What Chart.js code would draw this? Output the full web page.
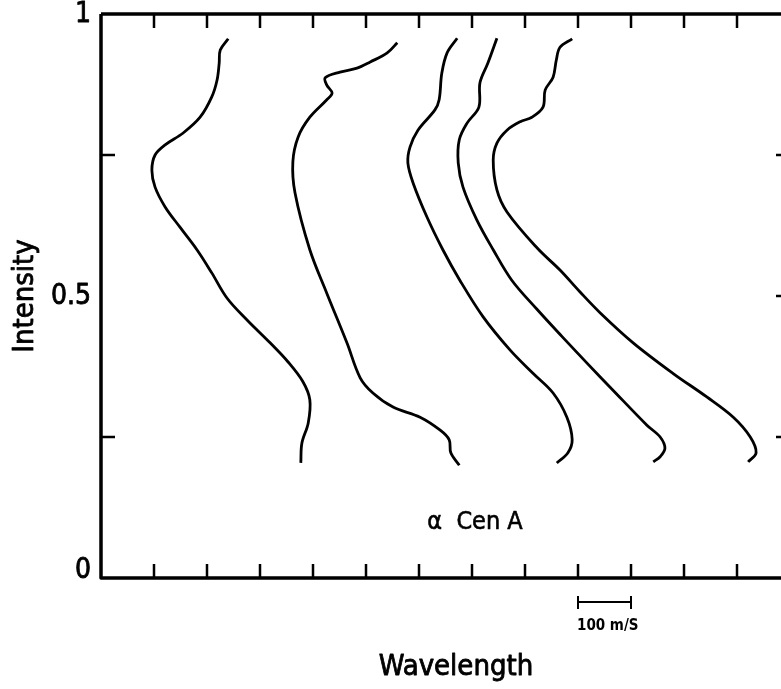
<!DOCTYPE html>
<html>
<head>
<meta charset="utf-8">
<title>alpha Cen A bisectors</title>
<script src="https://cdn.jsdelivr.net/npm/chart.js@4"></script>
<style>
  body { margin: 0; background: #fff; overflow: hidden; }
  canvas { display: block; }
</style>
</head>
<body>
<canvas id="chart" width="781" height="689"></canvas>
<script>
'use strict';

// line bisectors: velocity offset (m/s) and intensity
let shift1 = [240, 225, 223, 219, 209, 187, 155, 121, 102, 96, 102, 121, 149, 181, 209, 238, 276, 319, 353, 381, 394, 391, 379, 377];
let level1 = [0.956, 0.936, 0.913, 0.883, 0.853, 0.817, 0.789, 0.768, 0.750, 0.723, 0.693, 0.658, 0.622, 0.582, 0.541, 0.496, 0.457, 0.417, 0.383, 0.348, 0.316, 0.275, 0.239, 0.204];

let shift2 = [559, 540, 508, 483, 451, 423, 426, 436, 426, 394, 372, 362, 366, 394, 426, 464, 489, 513, 551, 602, 640, 657, 660, 676];
let level2 = [0.949, 0.931, 0.915, 0.904, 0.897, 0.887, 0.874, 0.860, 0.848, 0.817, 0.782, 0.738, 0.683, 0.582, 0.505, 0.417, 0.355, 0.328, 0.303, 0.285, 0.262, 0.245, 0.222, 0.200];

let shift3 = [672, 653, 643, 638, 630, 598, 583, 579, 589, 615, 645, 677, 721, 772, 815, 853, 879, 889, 881, 860];
let level3 = [0.957, 0.931, 0.895, 0.848, 0.830, 0.794, 0.764, 0.736, 0.700, 0.640, 0.582, 0.528, 0.463, 0.404, 0.363, 0.328, 0.285, 0.245, 0.222, 0.204];

let shift4 = [747, 730, 715, 713, 691, 676, 674, 683, 709, 740, 775, 823, 870, 917, 966, 1030, 1055, 1064, 1055, 1042];
let level4 = [0.957, 0.913, 0.878, 0.835, 0.807, 0.777, 0.736, 0.693, 0.635, 0.582, 0.528, 0.476, 0.428, 0.381, 0.333, 0.271, 0.250, 0.230, 0.215, 0.206];

let shift5 = [889, 866, 859, 853, 838, 834, 813, 791, 766, 747, 740, 747, 766, 823, 866, 903, 942, 1004, 1079, 1143, 1193, 1225, 1236, 1221];
let level5 = [0.956, 0.941, 0.918, 0.888, 0.865, 0.835, 0.817, 0.809, 0.794, 0.771, 0.741, 0.688, 0.649, 0.585, 0.546, 0.508, 0.470, 0.417, 0.363, 0.321, 0.285, 0.250, 0.222, 0.206];

// axis ticks
let xTicks = [100, 200, 300, 400, 500, 600, 700, 800, 900, 1000, 1100, 1200];
let yTicksLeft = [0.25, 0.75];
let yTicksRight = [0.25, 0.5, 0.75];
let yLabels = ['0', '0.5', '1'];
let yLabelValues = [0, 0.5, 1];

// scale bar 100 m/s
let barFrom = 900;
let barTo = 1000;

let ctx = document.getElementById('chart');

//zip the two lists into points
function toPoints(xs, ys) {
  return xs.map(function(x, i) {
    return { x: x, y: ys[i] };
  });
}

let curves = [[shift1, level1], [shift2, level2], [shift3, level3], [shift4, level4], [shift5, level5]];

let datasets = curves.map(function(c) {
  return {
    data: toPoints(c[0], c[1]),
    showLine: true,
    borderColor: '#000',
    borderWidth: 2.8,
    pointRadius: 0,
    tension: 0.35,
    fill: false,
  };
});

let FONT = '"DejaVu Sans Condensed", "DejaVu Sans", sans-serif';

// filled text with a thin outline so it looks like the heavy lettering
function letter(c, text, x, y, width) {
  c.lineWidth = width;
  c.strokeText(text, x, y);
  c.fillText(text, x, y);
}

// frame, inward ticks and all the lettering
let framePlugin = {
  id: 'frame',
  afterDraw: function(chart) {
    let c = chart.ctx;
    let xs = chart.scales.x;
    let ys = chart.scales.y;
    let a = chart.chartArea;
    let rightEdge = xs.getPixelForValue(1300);
    c.save();
    c.strokeStyle = '#000';
    c.fillStyle = '#000';
    c.lineCap = 'butt';
    c.lineJoin = 'round';

    c.lineWidth = 3.5;
    c.beginPath();
    c.moveTo(a.left, a.top);
    c.lineTo(a.left, a.bottom);
    c.lineTo(chart.width, a.bottom);
    c.moveTo(a.left, a.top);
    c.lineTo(chart.width, a.top);
    c.stroke();

    c.lineWidth = 2.5;
    c.beginPath();
    xTicks.forEach(function(v) {
      let px = xs.getPixelForValue(v);
      c.moveTo(px, a.bottom);
      c.lineTo(px, a.bottom - 14);
      c.moveTo(px, a.top);
      c.lineTo(px, a.top + 14);
    });
    yTicksLeft.forEach(function(v) {
      let py = ys.getPixelForValue(v);
      c.moveTo(a.left, py);
      c.lineTo(a.left + 14, py);
    });
    yTicksRight.forEach(function(v) {
      let py = ys.getPixelForValue(v);
      c.moveTo(rightEdge, py);
      c.lineTo(rightEdge - 14, py);
    });
    c.stroke();

    // y tick labels
    c.font = '28px ' + FONT;
    c.textAlign = 'right';
    c.textBaseline = 'middle';
    yLabels.forEach(function(t, i) {
      let py = Math.min(ys.getPixelForValue(yLabelValues[i]), a.bottom - 8);
      letter(c, t, a.left - 10, py + 1, 0.8);
    });

    // axis titles
    c.textAlign = 'center';
    c.font = '29px ' + FONT;
    letter(c, 'Wavelength', 456, 667, 0.8);
    c.save();
    c.translate(25, ys.getPixelForValue(0.5));
    c.rotate(-Math.PI / 2);
    letter(c, 'Intensity', 0, 0, 0.8);
    c.restore();

    // star name
    c.font = '25px ' + FONT;
    letter(c, '\u03B1  Cen A', 475, 522, 0.6);

    // 100 m/s scale bar
    let b0 = xs.getPixelForValue(barFrom);
    let b1 = xs.getPixelForValue(barTo);
    c.lineWidth = 2;
    c.beginPath();
    c.moveTo(b0, 602);
    c.lineTo(b1, 602);
    c.moveTo(b0, 596);
    c.lineTo(b0, 609);
    c.moveTo(b1, 596);
    c.lineTo(b1, 609);
    c.stroke();
    c.font = 'bold 15px ' + FONT;
    c.textAlign = 'left';
    c.fillText('100 m/S', b0 - 1, 626);
    c.restore();
  }
};

new Chart(ctx, {
  type: 'scatter',
  data: { datasets: datasets },
  options: {
    responsive: false,
    animation: false,
    layout: { padding: { left: 101, top: 14, right: 0, bottom: 111 } },
    scales: {
      x: { type: 'linear', min: 0, max: 1283, display: false },
      y: { type: 'linear', min: 0, max: 1, display: false }
    },
    plugins: {
      legend: { display: false },
      tooltip: { enabled: false }
    }
  },
  plugins: [framePlugin]
});
</script>
</body>
</html>
